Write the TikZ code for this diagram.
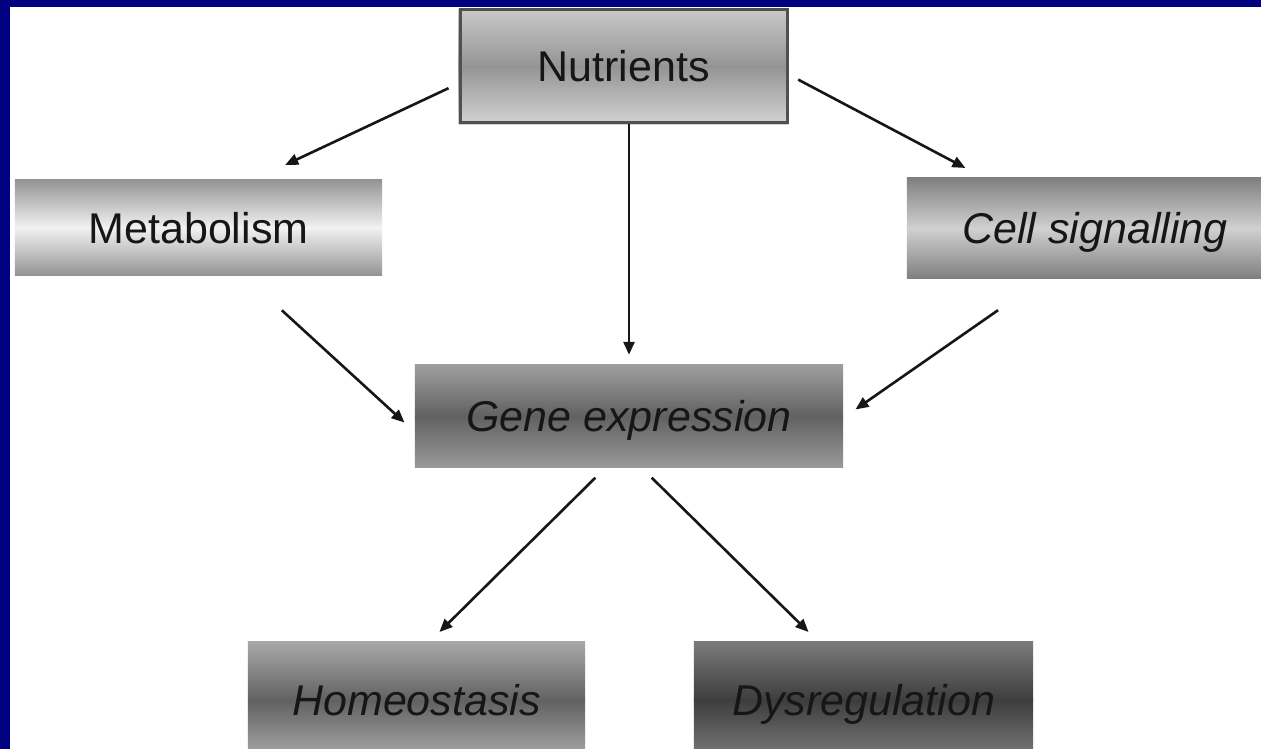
\documentclass[tikz,border=0pt]{standalone}
\usepackage{fontspec}
\setmainfont{Liberation Sans}
\usetikzlibrary{arrows.meta,positioning,backgrounds}
\definecolor{framecolor}{RGB}{0,0,128}
\definecolor{inkcolor}{RGB}{22,22,22}
\definecolor{edgecolor}{RGB}{80,80,80}
% two stacked linear shadings behind a node: top -> middle -> bottom
\newcommand{\bandfill}[4]{%
  \shade[top color=#2, bottom color=#3] (#1.north west) rectangle ([yshift=-0.6pt]#1.east);
  \shade[top color=#3, bottom color=#4] (#1.west) rectangle (#1.south east);}

\begin{document}
\begin{tikzpicture}[%
    x=1pt, y=-1pt,                          % one unit per pixel, y going down
    >={Triangle[length=13pt,width=11pt]},   % small solid heads
    ]
\tikzset{
  base/.style={inner sep=0pt, text height=31pt, text depth=0pt, text=inkcolor,
               font=\fontsize{43}{50}\selectfont},
  slant/.style={base, font=\fontsize{43}{50}\selectfont\itshape},
  flow/.style={->, line width=2.6pt, draw=inkcolor},
  nutr/.style={base, draw=edgecolor, line width=3pt, minimum width=327pt, minimum height=113pt},
  metab/.style={base, minimum width=367pt, minimum height=95pt},
  signal/.style={slant, minimum width=376pt, minimum height=100pt},
  gene/.style={slant, minimum width=428pt, minimum height=102pt},
  outcome/.style={slant, minimum height=116pt},
}

\useasboundingbox (0,0) rectangle (1261,749);

\node [nutr] (nut) at (623.5,66.5) {Nutrients};
\node [metab] (met) at (198.5,227.5) {Metabolism};
\node [signal] (cel) at (1095,228) {Cell signalling};
\node [gene] (gen) at (629,416) {Gene expression};
\node [outcome, minimum width=337pt] (hom) at (416.5,700) {Homeostasis};
\node [outcome, minimum width=339pt] (dys) at (863.5,700) {Dysregulation};

\begin{scope}[on background layer]
  \fill[framecolor] (0,0) rectangle (1261,749);
  \fill[white] (10,7) rectangle (1261,749);
  \clip (0,0) rectangle (1261,749);
  \bandfill{nut}{black!21}{black!42}{black!17}
  \bandfill{met}{black!42}{black!5}{black!42}
  \bandfill{cel}{black!50}{black!18}{black!50}
  \bandfill{gen}{black!38}{black!62}{black!40}
  \bandfill{hom}{black!34}{black!62}{black!34}
  \bandfill{dys}{black!52}{black!76}{black!52}
\end{scope}

%connect
\draw [flow, shorten <=11pt, shorten >=35pt] ([yshift=-17pt]nut.west) -- ([xshift=55pt]met.north);
\draw [flow, shorten >=10pt] (gen.north |- nut.south) -- (gen.north);
\draw [flow, shorten <=11pt, shorten >=21pt] ([yshift=-8pt]nut.east) -- ([xshift=-111pt]cel.north);
\draw [flow, shorten <=52pt, shorten >=14pt] ([xshift=45pt]met.south) -- ([yshift=-16pt]gen.west);
\draw [flow, shorten <=56pt, shorten >=15pt] ([xshift=-51pt]cel.south) -- ([yshift=-2pt]gen.east);
\draw [flow, shorten <=15pt, shorten >=14pt] ([xshift=-23pt]gen.south) -- ([xshift=13pt]hom.north);
\draw [flow, shorten <=15pt, shorten >=14pt] ([xshift=12pt]gen.south) -- ([xshift=-45pt]dys.north);

\end{tikzpicture}
\end{document}
